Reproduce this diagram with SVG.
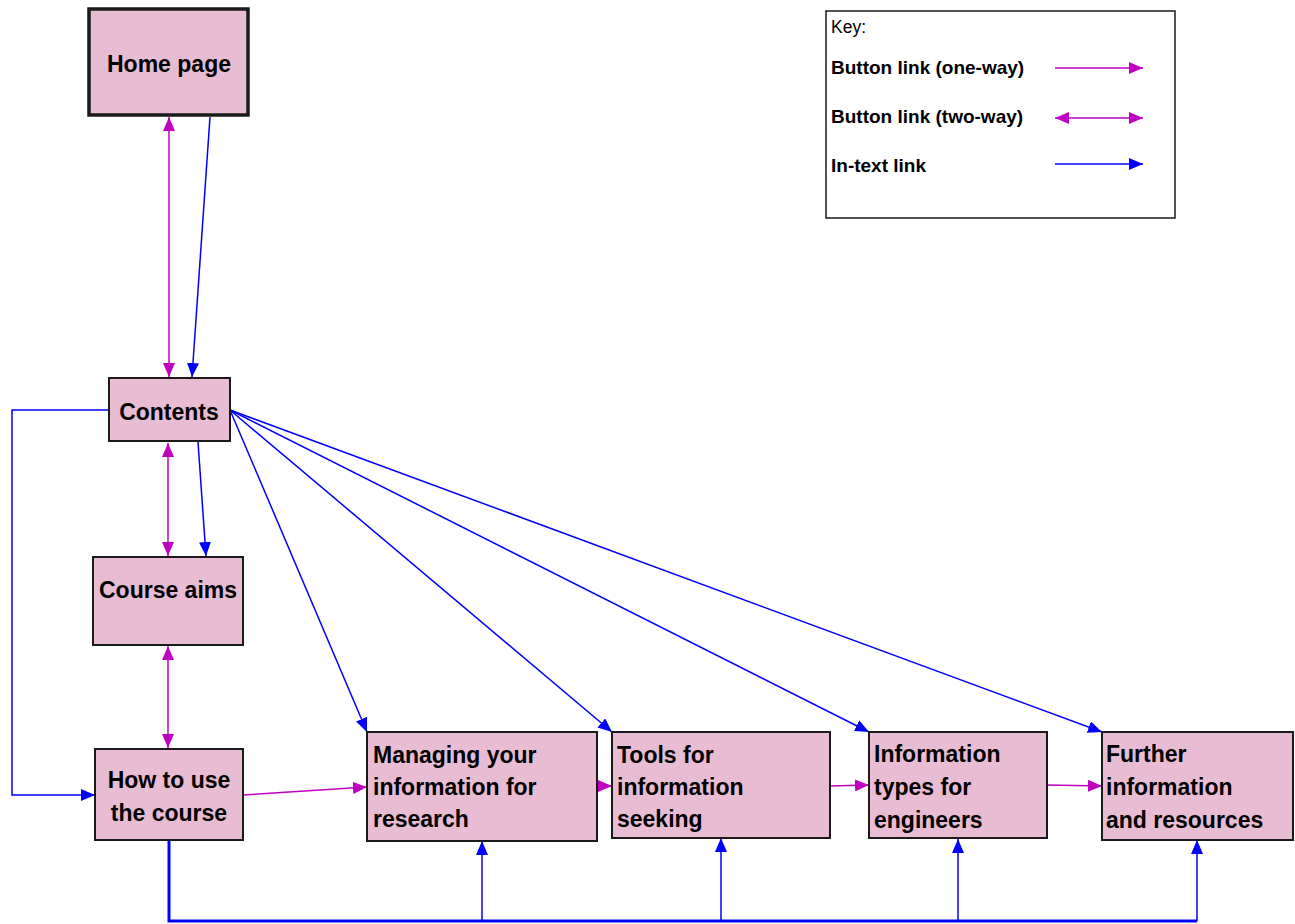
<svg xmlns="http://www.w3.org/2000/svg" width="1295" height="924" viewBox="0 0 1295 924">
<style>
.node rect{fill:#E8BCD2;stroke:#1a1a1a;stroke-width:2}
.lbl{font-family:"Liberation Sans",Arial,sans-serif;font-weight:bold;font-size:23px;fill:#000}
.c{text-anchor:middle}
.key{font-family:"Liberation Sans",Arial,sans-serif;font-size:17.5px;fill:#000}
.kb{font-weight:bold;font-size:19px}
.m{stroke:#C000C0;stroke-width:1.5;fill:none}
.b{stroke:#0000FF;stroke-width:1.5;fill:none}
.bt{stroke:#0000FF;stroke-width:3;fill:none}
</style>
<defs>
<marker id="am" markerUnits="userSpaceOnUse" markerWidth="14" markerHeight="12" refX="14" refY="6" orient="auto-start-reverse"><path d="M0,0 L14,6 L0,12 z" fill="#C000C0"/></marker>
<marker id="ab" markerUnits="userSpaceOnUse" markerWidth="14" markerHeight="12" refX="14" refY="6" orient="auto-start-reverse"><path d="M0,0 L14,6 L0,12 z" fill="#0000FF"/></marker>
</defs>
<rect width="1295" height="924" fill="#fff"/>

<g id="key">
<rect x="826" y="11" width="349" height="207" fill="#fff" stroke="#1a1a1a" stroke-width="1.5"/>
<text class="key" x="831" y="33">Key:</text>
<text class="key kb" x="831" y="74">Button link (one-way)</text>
<text class="key kb" x="831" y="123">Button link (two-way)</text>
<text class="key kb" x="831" y="172">In-text link</text>
<line class="m" x1="1055" y1="68" x2="1143" y2="68" marker-end="url(#am)"/>
<line class="m" x1="1055" y1="118" x2="1143" y2="118" marker-start="url(#am)" marker-end="url(#am)"/>
<line class="b" x1="1055" y1="164" x2="1143" y2="164" marker-end="url(#ab)"/>
</g>

<g id="connectors">
<line class="m" x1="169" y1="117" x2="169" y2="377" marker-start="url(#am)" marker-end="url(#am)"/>
<line class="b" x1="210" y1="117" x2="192" y2="377" marker-end="url(#ab)"/>
<line class="m" x1="168" y1="443" x2="168" y2="556" marker-start="url(#am)" marker-end="url(#am)"/>
<line class="b" x1="198" y1="442" x2="206" y2="556" marker-end="url(#ab)"/>
<line class="m" x1="168" y1="646" x2="168" y2="748" marker-start="url(#am)" marker-end="url(#am)"/>
<polyline class="b" points="109,410 12,410 12,795 95,795" marker-end="url(#ab)"/>
<line class="b" x1="230" y1="410" x2="367" y2="732" marker-end="url(#ab)"/>
<line class="b" x1="230" y1="410" x2="612" y2="732" marker-end="url(#ab)"/>
<line class="b" x1="230" y1="410" x2="869" y2="732" marker-end="url(#ab)"/>
<line class="b" x1="230" y1="410" x2="1102" y2="732" marker-end="url(#ab)"/>
<line class="m" x1="243" y1="795" x2="367" y2="787" marker-end="url(#am)"/>
<line class="m" x1="597" y1="786" x2="612" y2="786" marker-end="url(#am)"/>
<line class="m" x1="830" y1="786" x2="869" y2="785" marker-end="url(#am)"/>
<line class="m" x1="1047" y1="785" x2="1102" y2="786" marker-end="url(#am)"/>
<polyline class="bt" points="169,840 169,921 1197,921"/>
<line class="b" x1="482" y1="921" x2="482" y2="841" marker-end="url(#ab)"/>
<line class="b" x1="721" y1="921" x2="721" y2="838" marker-end="url(#ab)"/>
<line class="b" x1="958" y1="921" x2="958" y2="839" marker-end="url(#ab)"/>
<line class="b" x1="1197" y1="921" x2="1197" y2="840" marker-end="url(#ab)"/>
</g>

<g id="home" class="node">
<rect x="89" y="9" width="159" height="106" style="stroke-width:3.5"/>
<text class="lbl c" x="169" y="72">Home page</text>
</g>
<g id="contents" class="node">
<rect x="109" y="378" width="121" height="63"/>
<text class="lbl c" x="169" y="420">Contents</text>
</g>
<g id="aims" class="node">
<rect x="93" y="557" width="150" height="88"/>
<text class="lbl c" x="168" y="598">Course aims</text>
</g>
<g id="howto" class="node">
<rect x="95" y="749" width="148" height="91"/>
<text class="lbl c" x="169" y="788">How to use</text>
<text class="lbl c" x="169" y="821">the course</text>
</g>
<g id="managing" class="node">
<rect x="367" y="732" width="230" height="109"/>
<text class="lbl" x="373" y="763">Managing your</text>
<text class="lbl" x="373" y="795">information for</text>
<text class="lbl" x="373" y="827">research</text>
</g>
<g id="tools" class="node">
<rect x="612" y="732" width="218" height="106"/>
<text class="lbl" x="617" y="763">Tools for</text>
<text class="lbl" x="617" y="795">information</text>
<text class="lbl" x="617" y="827">seeking</text>
</g>
<g id="infotypes" class="node">
<rect x="869" y="732" width="178" height="106"/>
<text class="lbl" x="874" y="762">Information</text>
<text class="lbl" x="874" y="795">types for</text>
<text class="lbl" x="874" y="828">engineers</text>
</g>
<g id="further" class="node">
<rect x="1102" y="732" width="191" height="108"/>
<text class="lbl" x="1106" y="762">Further</text>
<text class="lbl" x="1106" y="795">information</text>
<text class="lbl" x="1106" y="828">and resources</text>
</g>
</svg>
